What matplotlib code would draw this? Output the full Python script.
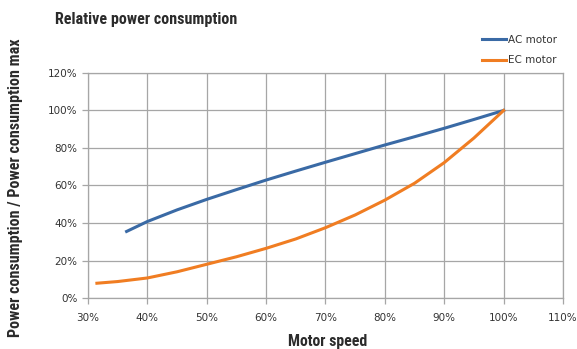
import matplotlib
matplotlib.use("Agg")
import matplotlib.pyplot as plt
from matplotlib.ticker import FuncFormatter

# Data (percent)
ac_speed = [36.5, 40, 45, 50, 55, 60, 65, 70, 75, 80, 85, 90, 95, 100]
ac_power = [35.5, 40.8, 47, 52.6, 57.8, 62.9, 67.7, 72.4, 77, 81.6, 86, 90.5, 95.2, 100]
ec_speed = [31.5, 35, 40, 45, 50, 55, 60, 65, 70, 75, 80, 85, 90, 95, 100]
ec_power = [7.9, 8.8, 10.7, 14, 18, 22, 26.5, 31.5, 37.5, 44.3, 52.2, 61.2, 72.2, 85.3, 100]

x_ticks = [30, 40, 50, 60, 70, 80, 90, 100, 110]
y_ticks = [0, 20, 40, 60, 80, 100, 120]

COND = ["Roboto Condensed", "Barlow Semi Condensed", "Fira Sans Condensed", "DejaVu Sans"]

fig = plt.figure(figsize=(5.77, 3.49), dpi=100)
ax = fig.add_axes([0.1525, 0.146, 0.8232, 0.645])

ax.plot(ac_speed, ac_power, color="#3A6AA5", lw=2.2, label="AC motor")
ax.plot(ec_speed, ec_power, color="#F07D22", lw=2.2, label="EC motor")

ax.set_xlim(30, 110)
ax.set_ylim(0, 120)
ax.set_xticks(x_ticks)
ax.set_yticks(y_ticks)
fmt = FuncFormatter(lambda v, p: f"{int(v)}%")
ax.xaxis.set_major_formatter(fmt)
ax.yaxis.set_major_formatter(fmt)
ax.grid(True, color="#A6A6A6", lw=0.9)
ax.set_axisbelow(True)
for s in ax.spines.values():
    s.set_color("#A6A6A6")
    s.set_linewidth(0.9)
ax.tick_params(axis="both", colors="#A6A6A6", labelcolor="#333333", labelsize=7.5,
               length=4, width=0.9, direction="out")
ax.tick_params(axis="x", pad=7)

fig.text(0.095, 0.945, "Relative power consumption", fontsize=11.6, fontweight="bold",
         color="#2b2b2b", ha="left", va="center", family=COND)
fig.text(0.026, 0.463, "Power consumption / Power consumption max", fontsize=11.6,
         fontweight="bold", color="#2b2b2b", rotation=90, ha="center", va="center",
         family=COND)
fig.text(0.567, 0.022, "Motor speed", fontsize=11.4, fontweight="bold",
         color="#2b2b2b", ha="center", va="center", family=COND)

leg = fig.legend(loc="upper left", bbox_to_anchor=(0.826, 0.915), frameon=False,
                 fontsize=7.5, handlelength=2.3, handletextpad=0.25, labelspacing=1.0,
                 borderpad=0)
for t in leg.get_texts():
    t.set_color("#333333")

fig.savefig("out.png", dpi=100)
